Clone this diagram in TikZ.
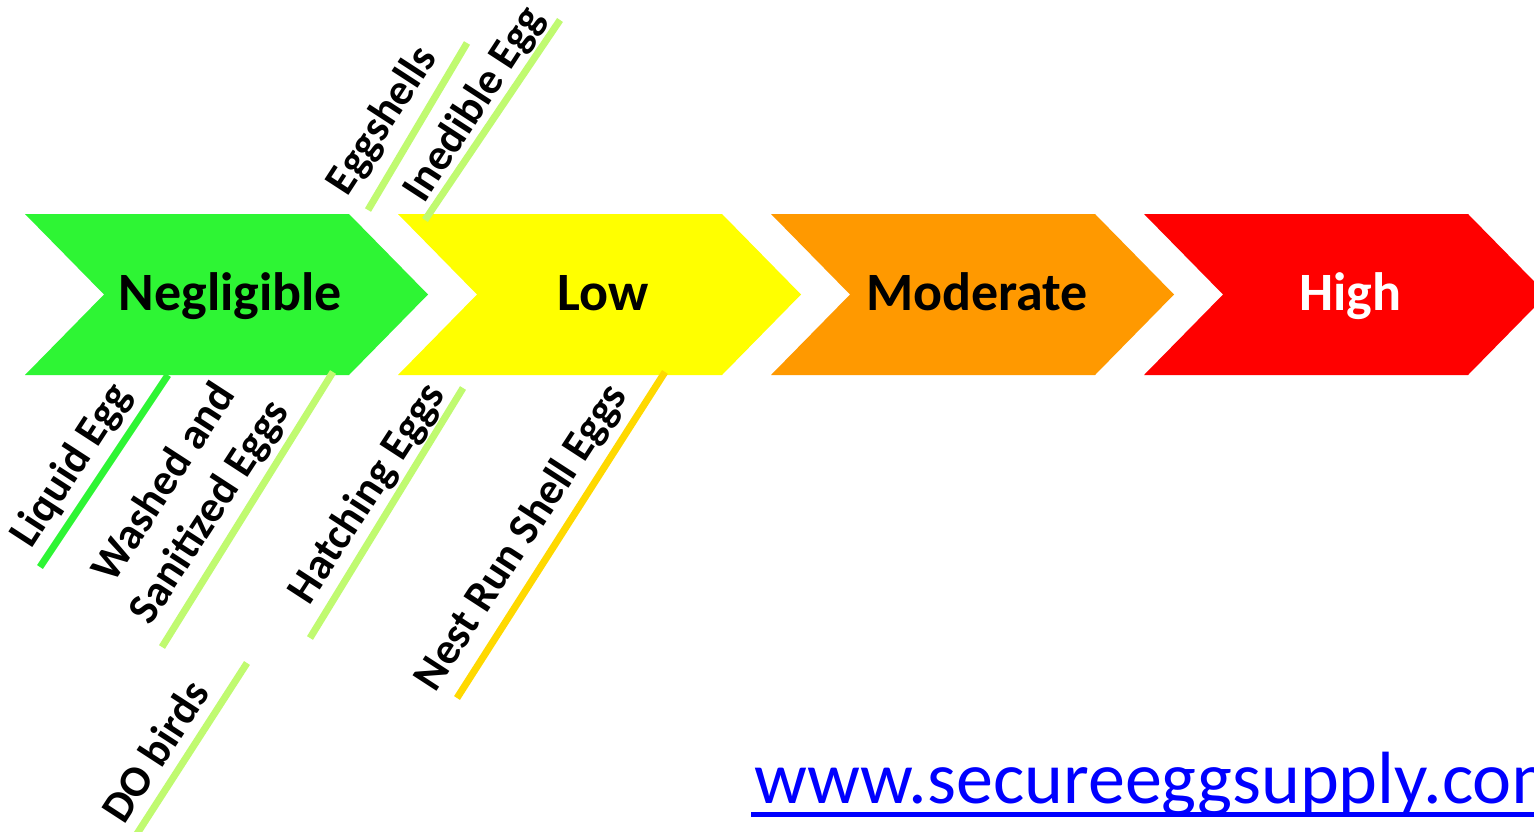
\documentclass[tikz,border=0pt]{standalone}
\usepackage{fontspec}
\setmainfont{Carlito}
\definecolor{cgreen}{RGB}{46,245,52}
\definecolor{cyellow}{RGB}{255,255,0}
\definecolor{corange}{RGB}{255,153,0}
\definecolor{cred}{RGB}{255,0,0}
\definecolor{lgreen}{RGB}{192,250,112}
\definecolor{cgold}{RGB}{255,217,0}
\definecolor{curl}{RGB}{0,0,255}
\pgfdeclareradialshading{bgshade}{\pgfpoint{0bp}{0bp}}{color(0bp)=(white); color(34bp)=(white); color(50bp)=(black!9); color(60bp)=(black!12)}
\tikzset{
  head/.style={font=\bfseries\fontsize{54}{66}\selectfont, inner sep=0pt, anchor=base},
  side/.style={font=\bfseries\fontsize{44}{54}\selectfont, inner sep=0pt, rotate=57, align=center},
  tick/.style={line width=7pt},
}
\begin{document}
\begin{tikzpicture}[x=1pt,y=-1pt]
\useasboundingbox (0,0) rectangle (1534,832);
\clip (0,0) rectangle (1534,832);
\shade[shading=bgshade] (-233,-800) rectangle (1767,1000);
% chevrons
\foreach \i/\c in {0/cgreen,1/cyellow,2/corange,3/cred}{
  \fill[\c] ({25+373*\i},214) -- ({349+373*\i},214) -- ({428+373*\i},294.5) -- ({349+373*\i},375)
     -- ({25+373*\i},375) -- ({104+373*\i},294.5) -- cycle;
}
\node[head] (neg) at (230.5,310) {Negligible};
\node[head] (low) at (603.5,310) {Low};
\node[head] (mod) at (977,310) {Moderate};
\node[head, text=white] (high) at (1350,310) {High};
% tick lines
\coordinate (a1) at (168,375); \coordinate (b1) at (40,567);
\coordinate (a2) at (333,372); \coordinate (b2) at (162,647);
\coordinate (a3) at (463,388); \coordinate (b3) at (310,638);
\coordinate (a4) at (665,372); \coordinate (b4) at (457,698);
\coordinate (a5) at (467,43);  \coordinate (b5) at (368,210);
\coordinate (a6) at (560,20);  \coordinate (b6) at (425,220);
\coordinate (a7) at (247,663); \coordinate (b7) at (133,840);
\draw[tick, cgreen] (a1) -- (b1);
\draw[tick, lgreen] (a2) -- (b2);
\draw[tick, lgreen] (a3) -- (b3);
\draw[tick, cgold] (a4) -- (b4);
\draw[tick, lgreen] (a5) -- (b5);
\draw[tick, lgreen] (a6) -- (b6);
\draw[tick, lgreen] (a7) -- (b7);
% labels
\node[side] (liq) at (72,466) {Liquid Egg};
\node[side] (was) at (188,498) {Washed and\\Sanitized Eggs};
\node[side] (hat) at (368,494) {Hatching Eggs};
\node[side] (nest) at (522,538) {Nest Run Shell Eggs};
\node[side] (shell) at (383,121) {Eggshells};
\node[side] (ined) at (475,105) {Inedible Egg};
\node[side] (dob) at (155,751) {DO birds};
% url
\node[font=\fontsize{74}{88}\selectfont, text=curl, inner sep=0pt, anchor=base west] (url) at (754,803) {www.secureeggsupply.com};
\coordinate (u1) at (751,814.5);
\coordinate (u2) at (1540,814.5);
\draw[curl, line width=5pt] (u1) -- (u2);
\end{tikzpicture}
\end{document}
